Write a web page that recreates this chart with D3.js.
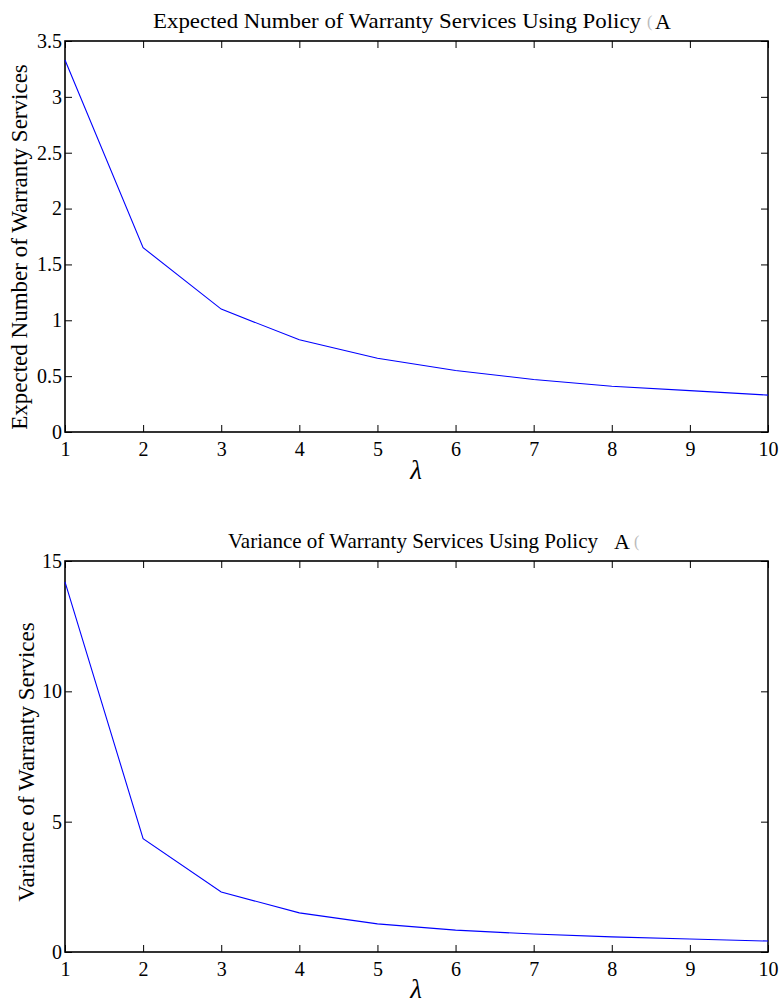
<!DOCTYPE html>
<html>
<head>
<meta charset="utf-8">
<script src="https://cdn.jsdelivr.net/npm/d3@7"></script>
<style>
  body { margin: 0; background: #fff; }
  svg text { font-family: "Liberation Serif", "DejaVu Serif", serif; fill: #000; }
</style>
</head>
<body>
<div id="chart"></div>
<script>
"use strict";

// valeurs
var lambdas = [1, 2, 3, 4, 5, 6, 7, 8, 9, 10];
var expectedServices = [3.33, 1.65, 1.10, 0.825, 0.66, 0.55, 0.47, 0.41, 0.37, 0.33];
var varianceServices = [14.2, 4.35, 2.3, 1.5, 1.08, 0.84, 0.69, 0.58, 0.5, 0.42];

var xTicks = [1, 2, 3, 4, 5, 6, 7, 8, 9, 10];
var yTicksTop = [0, 0.5, 1, 1.5, 2, 2.5, 3, 3.5];
var yTicksBottom = [0, 5, 10, 15];

var larg = 780, haut = 1005;

var svg = d3.select("#chart")
  .append("svg")
  .attr("width", larg)
  .attr("height", haut);

function drawPanel(opts) {
  var left = 65, right = 768;
  var top = opts.top, bottom = opts.bottom;

  var x = d3.scaleLinear().domain([1, 10]).range([left, right]);
  var y = d3.scaleLinear().domain(opts.domain).range([bottom, top]);

  var g = svg.append("g");

  // axe du bas, ticks vers l'intérieur
  g.append("g")
    .attr("transform", "translate(0," + bottom + ")")
    .call(d3.axisBottom(x).tickValues(xTicks).tickSize(-7).tickPadding(10).tickFormat(d3.format("d")))
    .call(function(a) { a.select(".domain").remove(); });

  g.append("g")
    .attr("transform", "translate(0," + top + ")")
    .call(d3.axisTop(x).tickValues(xTicks).tickSize(-7).tickFormat(""))
    .call(function(a) { a.select(".domain").remove(); });

  g.append("g")
    .attr("transform", "translate(" + left + ",0)")
    .call(d3.axisLeft(y).tickValues(opts.ticks).tickSize(-7).tickPadding(3).tickFormat(function(d) { return String(d); }))
    .call(function(a) { a.select(".domain").remove(); });

  g.append("g")
    .attr("transform", "translate(" + right + ",0)")
    .call(d3.axisRight(y).tickValues(opts.ticks).tickSize(-7).tickFormat(""))
    .call(function(a) { a.select(".domain").remove(); });

  g.selectAll(".tick line").attr("stroke", "#000").attr("stroke-width", 1);
  g.selectAll(".tick text")
    .style("font-family", "'Liberation Serif', serif")
    .style("font-size", "20px")
    .attr("fill", "#000");

  // cadre
  g.append("rect")
    .attr("x", left).attr("y", top)
    .attr("width", right - left).attr("height", bottom - top)
    .attr("fill", "none")
    .attr("stroke", "#000")
    .attr("stroke-width", 1.6);

  // courbe
  var line = d3.line()
    .x(function(d, i) { return x(lambdas[i]); })
    .y(function(d) { return y(d); });

  g.append("path")
    .datum(opts.values)
    .attr("d", line)
    .attr("fill", "none")
    .attr("stroke", "#0000ff")
    .attr("stroke-width", 1.1);

  // titre
  g.append("text")
    .attr("x", opts.titleX)
    .attr("y", top - 13)
    .style("font-size", "22px")
    .attr("textLength", opts.titleLen)
    .attr("lengthAdjust", "spacingAndGlyphs")
    .text(opts.title);
  g.append("text")
    .attr("x", opts.aX)
    .attr("y", top - 12)
    .style("font-size", "22px")
    .text("A");
  // petite marque parasite près du A
  g.append("text")
    .attr("x", opts.markX)
    .attr("y", top - 14)
    .style("font-size", "16px")
    .style("fill", "#bbb")
    .text("(");

  // label y
  g.append("text")
    .attr("transform", "translate(" + opts.yLabelX + "," + opts.yLabelY + ") rotate(-90)")
    .attr("text-anchor", "middle")
    .style("font-size", "23px")
    .text(opts.yLabel);

  // label x
  g.append("text")
    .attr("x", 416)
    .attr("y", bottom + opts.xLabelDy)
    .attr("text-anchor", "middle")
    .style("font-size", "27px")
    .style("font-style", "italic")
    .text("λ");
}

drawPanel({
  top: 41, bottom: 432,
  domain: [0, 3.5], ticks: yTicksTop,
  values: expectedServices,
  title: "Expected Number of Warranty Services Using Policy",
  titleX: 153, titleLen: 488, aX: 655, markX: 647,
  yLabel: "Expected Number of Warranty Services",
  yLabelX: 27, yLabelY: 247,
  xLabelDy: 47
});

drawPanel({
  top: 561, bottom: 952,
  domain: [0, 15], ticks: yTicksBottom,
  values: varianceServices,
  title: "Variance of Warranty Services Using Policy",
  titleX: 228, titleLen: 370, aX: 614, markX: 634,
  yLabel: "Variance of Warranty Services",
  yLabelX: 34, yLabelY: 762,
  xLabelDy: 46
});
</script>
</body>
</html>
